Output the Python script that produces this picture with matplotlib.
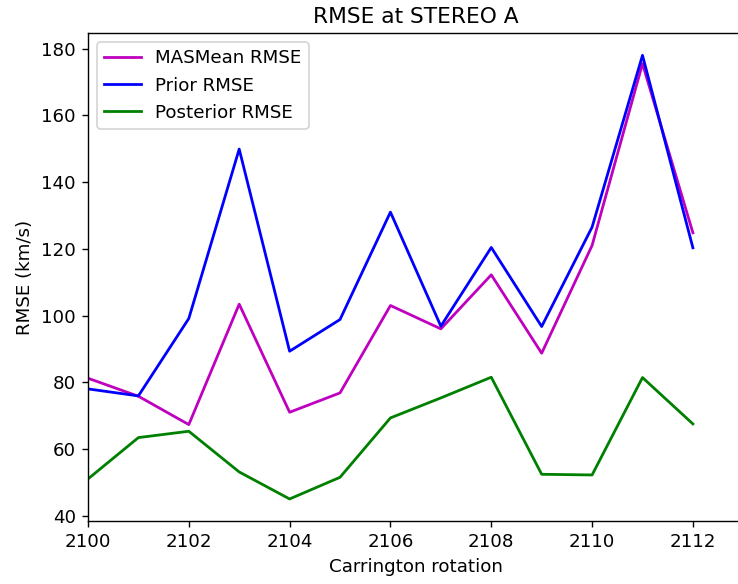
import matplotlib
matplotlib.use("Agg")
import matplotlib.pyplot as plt

# Carrington rotations and RMSE values (km/s)
rotations = [2100, 2101, 2102, 2103, 2104, 2105, 2106, 2107, 2108, 2109, 2110, 2111, 2112]
masmean_rmse = [81.2, 75.8, 67.3, 103.4, 71.0, 76.8, 103.0, 96.0, 112.2, 88.7, 121.0, 175.5, 124.8]
prior_rmse = [78.0, 75.9, 99.1, 149.9, 89.3, 98.8, 131.0, 96.8, 120.4, 96.7, 126.5, 178.0, 120.3]
posterior_rmse = [51.0, 63.4, 65.3, 53.1, 45.0, 51.5, 69.3, 75.3, 81.5, 52.4, 52.2, 81.4, 67.5]

DPI = 125
fig = plt.figure(figsize=(738 / DPI, 584 / DPI), dpi=DPI)
# 右端はもとの図と同じく少しはみ出させる
ax = fig.add_axes([0.1192, 0.1079, 0.888, 0.8356])

ax.plot(rotations, masmean_rmse, color="m", linewidth=1.6, label="MASMean RMSE")
ax.plot(rotations, prior_rmse, color="b", linewidth=1.6, label="Prior RMSE")
ax.plot(rotations, posterior_rmse, color="g", linewidth=1.6, label="Posterior RMSE")

ax.set_xlim(2100, 2113)
ax.set_ylim(38.4, 184.7)
ax.set_xticks(range(2100, 2113, 2))
ax.set_yticks(range(40, 181, 20))

ax.set_title("RMSE at STEREO A", fontsize=12.5)
ax.set_xlabel("Carrington rotation", fontsize=10.5)
ax.set_ylabel("RMSE (km/s)", fontsize=10.5)
ax.tick_params(labelsize=10.5)
ax.legend(loc="upper left", fontsize=10.5)

fig.savefig("out.png", dpi=DPI)
